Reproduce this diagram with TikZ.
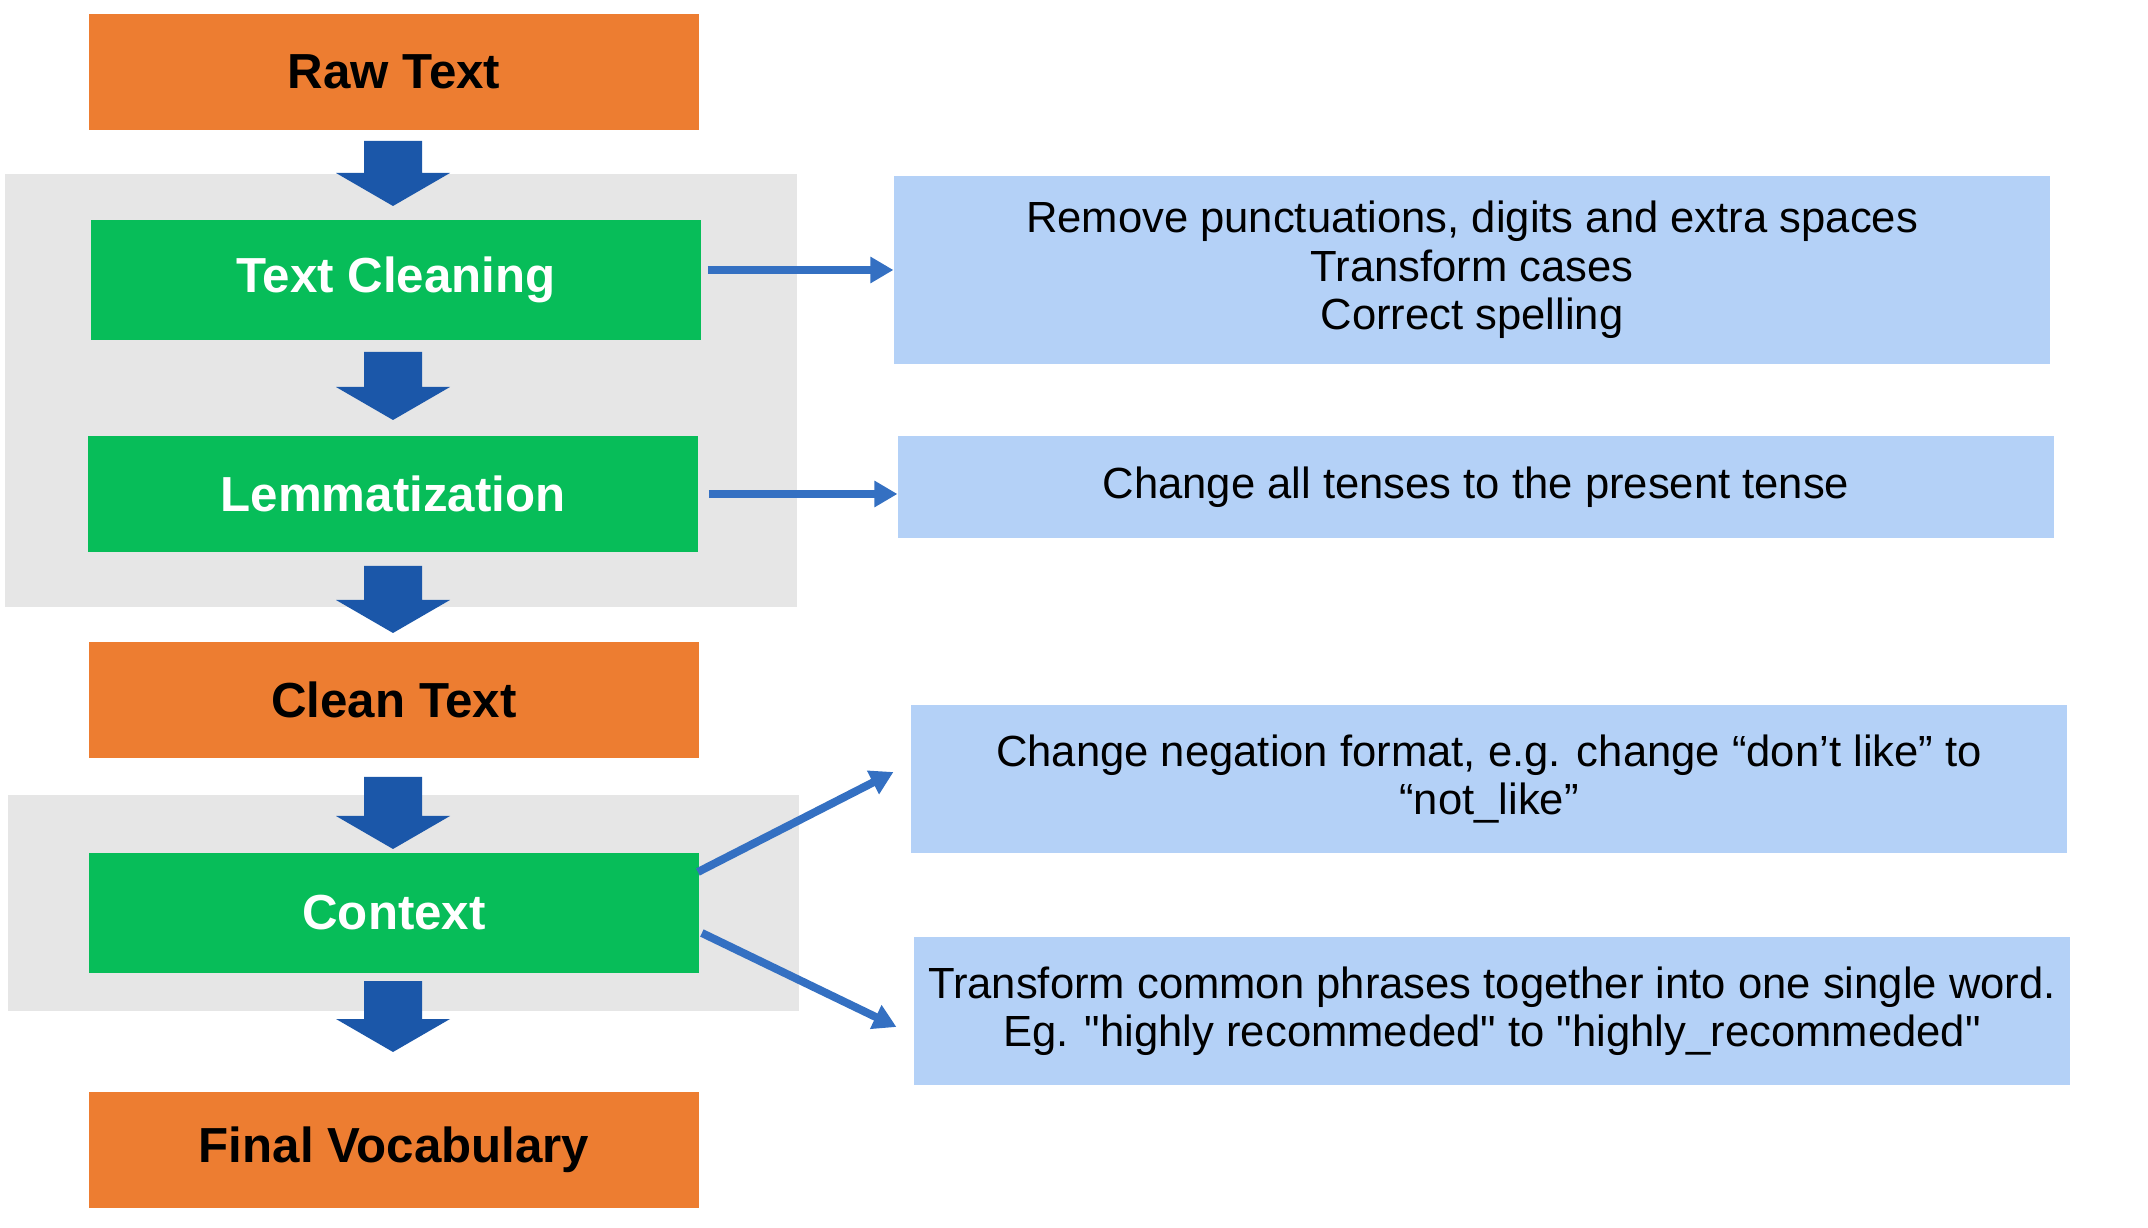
\documentclass[tikz,border=0pt]{standalone}
\usepackage{fontspec}
\setmainfont{Liberation Sans}
\usetikzlibrary{arrows.meta,calc}
\definecolor{stepOrange}{HTML}{ED7D31}
\definecolor{stepGreen}{HTML}{07BD59}
\definecolor{noteBlue}{HTML}{B4D1F7}
\definecolor{groupGray}{HTML}{E6E6E6}
\definecolor{flowBlue}{HTML}{1B57A9}
\definecolor{linkBlue}{HTML}{3470C2}
% block arrow pointing down: top y, tip y
\newcommand{\flowdown}[2]{%
  \fill[flowBlue] (364,#1) -- (422,#1) -- (422,#2-33) -- (450,#2-33)
    -- (393,#2) -- (336,#2-33) -- (364,#2-33) -- cycle;}
\begin{document}
\begin{tikzpicture}[x=0.01cm,y=-0.01cm,
    stepbox/.style={minimum width=6.1cm,minimum height=1.15cm,inner sep=0pt,
      font=\fontsize{14}{16}\selectfont\bfseries},
    raw/.style={stepbox,fill=stepOrange,text=black},
    proc/.style={stepbox,fill=stepGreen,text=white,minimum height=1.2cm},
    note/.style={fill=noteBlue,inner sep=0pt,minimum width=11.55cm,align=center,
      font=\fontsize{12.4}{13.8}\selectfont},
    link/.style={linkBlue,line width=0.08cm,-{Triangle[length=0.23cm,width=0.25cm]}}]
  \useasboundingbox (0,0) rectangle (2148,1228);
  % grey groups
  \fill[groupGray] (5,174) rectangle (797,607);
  \fill[groupGray] (8,795) rectangle (799,1011);
  \draw
    (394,72) node[raw] (rawtxt){Raw Text}
    (396,280) node[proc] (clean){Text Cleaning}
    (393,494) node[proc,minimum height=1.15cm] (lemma){Lemmatization}
    (394,700) node[raw] (cleantxt){Clean Text}
    (394,913) node[proc] (context){Context}
    (394,1150) node[raw] (vocab){Final Vocabulary};
  \draw
    (1472,270) node[note,minimum height=1.87cm] (n1){Remove punctuations, digits and extra spaces\\Transform cases\\Correct spelling}
    (1476,487) node[note,minimum height=1.01cm] (n2){Change all tenses to the present tense}
    (1489,779) node[note,minimum height=1.48cm] (n3){Change negation format, e.g. change “don’t like” to\\“not\_like”}
    (1492,1011) node[note,minimum height=1.47cm] (n4){Transform common phrases together into one single word.\\Eg. \textquotedbl highly recommeded\textquotedbl{} to \textquotedbl highly\_recommeded\textquotedbl};
  % flow arrows
  \flowdown{141}{206}
  \flowdown{352}{420}
  \flowdown{566}{633}
  \flowdown{777}{849}
  \flowdown{981}{1052}
  \begin{scope}[link]
    \draw ($(clean.east |- n1.west)+(6,0)$) to (n1.west);
    \draw ($(lemma.east)+(10,0)$) to (n2.west |- lemma.east);
    \draw ($(context.east)+(-2,-41)$) to ($(n3.west)+(-17,-7)$);
    \draw ($(context.east)+(2,20)$) to ($(n4.west)+(-17,16)$);
  \end{scope}
\end{tikzpicture}
\end{document}
